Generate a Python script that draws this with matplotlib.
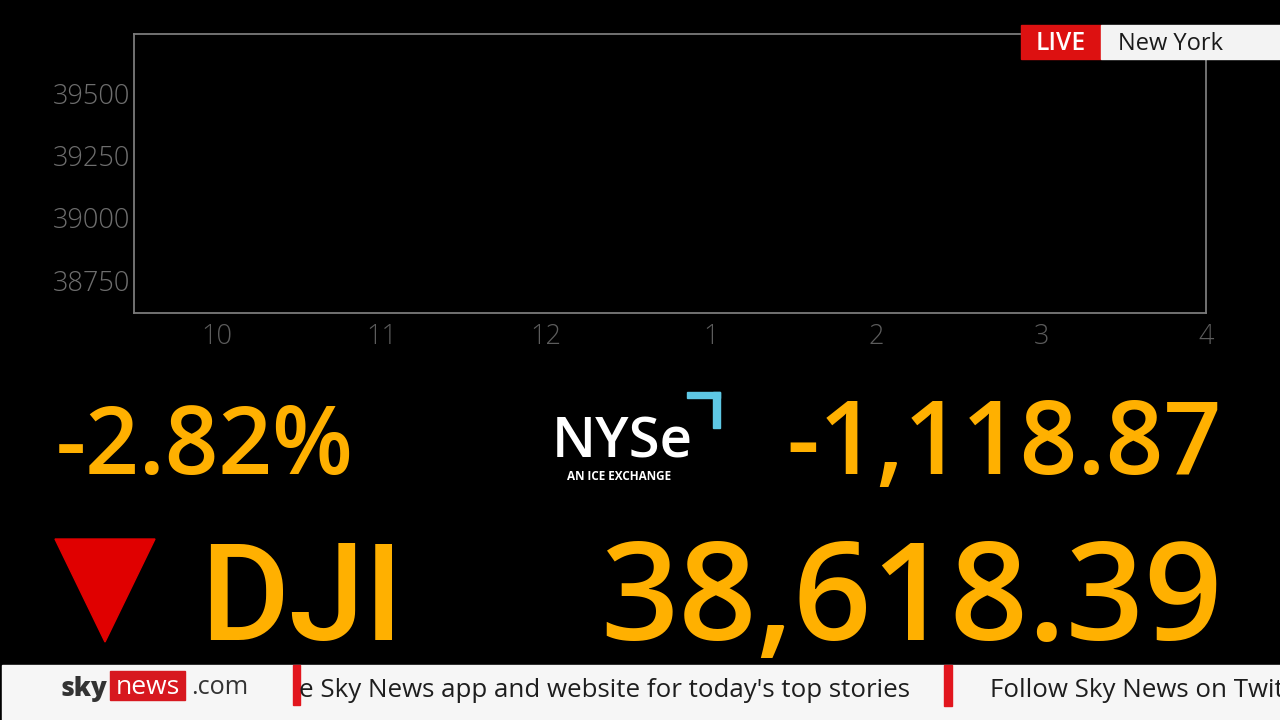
import matplotlib
matplotlib.use("Agg")
import matplotlib.pyplot as plt
from matplotlib.patches import Rectangle, Polygon

# ---------------- data ----------------
index_name = "DJI"
last_value = 38618.39
net_change = -1118.87
pct_change = -2.82
prev_close = last_value - net_change          # 39737.26
session_start, session_end = 9.5, 16.0        # 9:30 to 16:00
hour_ticks = [10, 11, 12, 13, 14, 15, 16]
hour_labels = ["10", "11", "12", "1", "2", "3", "4"]
price_ticks = [38750, 39000, 39250, 39500]
times = []        # intraday series not yet drawn on screen
prices = []
location = "New York"
ticker_items = ["e Sky News app and website for today's top stories",
                "Follow Sky News on Twitter"]

# ---------------- style ----------------
W, H = 1280, 720
ORANGE = "#FFB000"
FONT = ["Open Sans", "DejaVu Sans"]
plt.rcParams["font.family"] = FONT

fig = plt.figure(figsize=(W / 100, H / 100), dpi=100, facecolor="black")
renderer = fig.canvas.get_renderer()

# ---------------- chart ----------------
ax = fig.add_axes([134 / W, 1 - 313 / H, (1206 - 134) / W, (313 - 34) / H], zorder=1)
ax.set_facecolor("black")
ax.plot(times, prices, color=ORANGE, lw=2)
ax.set_xlim(session_start, session_end)
ax.set_ylim(last_value, prev_close)
ax.set_xticks(hour_ticks, hour_labels)
ax.set_yticks(price_ticks, [str(v) for v in price_ticks])
ax.tick_params(axis="both", length=0, labelsize=19.5)
ax.tick_params(axis="y", pad=2.5, labelcolor="#6e6e6e")
ax.tick_params(axis="x", pad=7, labelcolor="#5c5c5c")
for lab in ax.get_xticklabels() + ax.get_yticklabels():
    lab.set_fontweight(300)
for s in ax.spines.values():
    s.set_color("#7a7a7a")
    s.set_linewidth(1.3)

# ---------------- overlay ----------------
ov = fig.add_axes([0, 0, 1, 1], zorder=2)
ov.set_xlim(0, W)
ov.set_ylim(H, 0)
ov.axis("off")
ov.patch.set_alpha(0)


def fit(t, width):
    bb = t.get_window_extent(renderer)
    t.set_fontsize(t.get_fontsize() * width / bb.width)
    return t


# live badge
ov.add_patch(Rectangle((1021, 25), 80, 34, color="#DD1111", zorder=3))
ov.add_patch(Rectangle((1101, 25), 179, 34, color="#F3F3F3", zorder=3))
fit(ov.text(1061, 50, "LIVE", color="white", fontsize=17, weight=600,
            ha="center", va="baseline", zorder=4), 50)
fit(ov.text(1118, 50, location, color="#1a1a1a", fontsize=17,
            ha="left", va="baseline", zorder=4), 105)

# big figures
fit(ov.text(56, 474, f"{pct_change:.2f}%", color=ORANGE, fontsize=70,
            ha="left", va="baseline", weight=600), 298)
fit(ov.text(1222, 474, f"{net_change:,.2f}", color=ORANGE, fontsize=70,
            ha="right", va="baseline", weight=600), 436)
ov.text(200, 640, index_name, color=ORANGE, fontsize=98,
        ha="left", va="baseline", weight=500, family=["Roboto", "DejaVu Sans"])
fit(ov.text(1222, 640, f"{last_value:,.2f}", color=ORANGE, fontsize=95,
            ha="right", va="baseline", weight=600), 622)

# down arrow
ov.add_patch(Polygon([(55, 539), (155, 539), (105, 642)], closed=True,
                     color="#E00000"))

# NYSE logo
fit(ov.text(552, 457, "NYSe", color="white", fontsize=30, weight=600,
            ha="left", va="baseline"), 141)
fit(ov.text(567, 480, "AN ICE EXCHANGE", color="white", fontsize=8,
            weight=700, ha="left", va="baseline"), 105)
CYAN = "#5EC8E5"
ov.add_patch(Rectangle((687, 392), 33, 6, color=CYAN))
ov.add_patch(Rectangle((713, 392), 7, 36, color=CYAN))

# bottom ticker
ov.add_patch(Rectangle((2, 665), 1278, 55, color="#F6F6F6", zorder=3))
fit(ov.text(61, 696, "sky", color="#333333", fontsize=20, weight=800,
            ha="left", va="baseline", zorder=5), 47)
ov.add_patch(Rectangle((110, 671), 75, 29, color="#D7181F", zorder=4))
fit(ov.text(147.5, 694, "news", color="white", fontsize=20,
            ha="center", va="baseline", zorder=5), 64)
fit(ov.text(191, 694, ".com", color="#333333", fontsize=20,
            ha="left", va="baseline", zorder=5), 57)
ov.add_patch(Rectangle((293, 665), 7, 40, color="#E2161E", zorder=4))
ov.add_patch(Rectangle((944, 665), 8, 41, color="#E2161E", zorder=4))
t1 = fit(ov.text(299, 697, ticker_items[0], color="#1e1e1e", fontsize=20,
                 ha="left", va="baseline", zorder=5), 608)
ov.text(990, 697, ticker_items[1], color="#1e1e1e", zorder=5,
        fontsize=t1.get_fontsize(), ha="left", va="baseline", clip_on=True)

fig.savefig("out.png", dpi=100, facecolor="black")
